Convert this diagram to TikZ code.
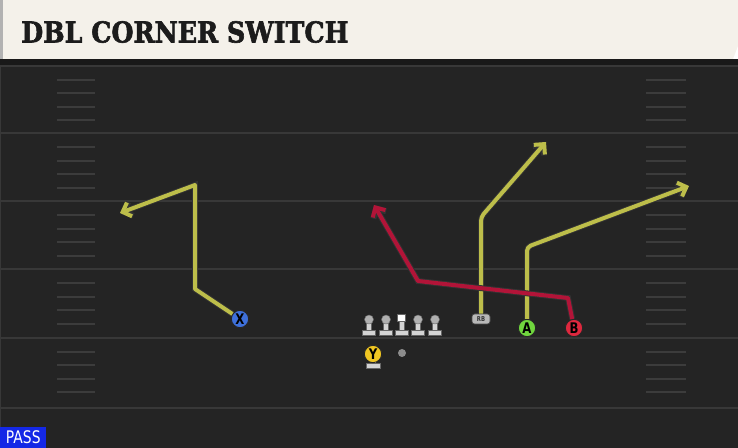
\documentclass[tikz,border=0pt]{standalone}
\usepackage{fontspec}
\usetikzlibrary{arrows.meta}
\newfontfamily\titlefont[FakeStretch=0.88,FakeBold=2]{DejaVu Serif}
\newfontfamily\playfont[FakeStretch=0.8]{DejaVu Sans}
\definecolor{fieldbg}{RGB}{36,36,36}
\definecolor{yardgray}{RGB}{56,56,56}
\definecolor{hashgray}{RGB}{60,60,60}
\definecolor{cream}{RGB}{244,241,234}
\definecolor{titleink}{RGB}{28,28,28}
\definecolor{routeyellow}{RGB}{189,190,74}
\definecolor{routered}{RGB}{178,20,56}
\definecolor{xblue}{RGB}{62,112,218}
\definecolor{agreen}{RGB}{112,214,62}
\definecolor{bred}{RGB}{222,40,62}
\definecolor{yyellow}{RGB}{240,198,34}
\definecolor{passblue}{RGB}{20,40,230}
\definecolor{linegray}{RGB}{212,212,212}
\definecolor{headgray}{RGB}{176,176,176}
\begin{document}
\begin{tikzpicture}[x=0.75pt,y=-0.75pt]
  \useasboundingbox (0,0) rectangle (738,448);
  \tikzstyle{yard}=[draw=yardgray, line width=1.5pt]
  \tikzstyle{hash}=[draw=hashgray, line width=1.4pt]
  \tikzstyle{player}=[circle, draw=black!85, line width=0.7pt, minimum size=13pt, inner sep=0pt, font=\playfont\bfseries\fontsize{11}{11}\selectfont]
  \tikzstyle{head}=[circle, fill=headgray, draw=black!60, line width=0.3pt, minimum size=6.8pt, inner sep=0pt]
  \tikzstyle{route}=[line width=3pt, line join=round, -{Straight Barb[length=5.5pt,width=11pt]}, preaction={draw=black!80, line width=4.4pt}]

  % field and title bar
  \fill[fieldbg] (0,59) rectangle (738,448);
  \fill[black!90] (0,59) rectangle (738,65);
  \fill[cream] (3,0) -- (738,0) -- (738,46) -- (733,59) -- (3,59) -- cycle;
  \fill[black!30] (0,0) rectangle (3,59);
  \draw[yardgray, line width=1.2pt] (0.5,65) -- (0.5,448);
  \node[anchor=base west, inner sep=0pt, text=titleink, font=\titlefont\bfseries\fontsize{21.6}{24}\selectfont] (title) at (21,42.5) {DBL CORNER SWITCH};

  \foreach \y in {66,133.5,201.5,269.5,338,407.5}
    \draw[yard] (0,\y) -- (738,\y);
  \foreach \y in {66,133.5,201.5,269.5,338}
    \foreach \k in {1,...,4} {
      \draw[hash] (57,\y+13.6*\k) -- (95,\y+13.6*\k);
      \draw[hash] (646,\y+13.6*\k) -- (686,\y+13.6*\k);
    }

  % line
  \foreach \x in {369,386,401.5,418,435} {
    \filldraw[fill=linegray, draw=black!60, line width=0.3pt] (\x-2.6,321) rectangle (\x+2.6,331);
    \filldraw[fill=linegray, draw=black!60, line width=0.3pt] (\x-6.5,330.5) rectangle (\x+6.5,335.5);
  }
  \foreach \x/\n in {369/lt,386/lg,418/rg,435/rt}
    \node[head] (\n) at (\x,319.5) {};
  \node[fill=white, draw=black!60, line width=0.3pt, minimum width=6pt, minimum height=5.5pt, inner sep=0pt] (c) at (401.5,317.5) {};

  % backfield
  \fill[linegray] (370.5,360) rectangle (375.5,364);
  \filldraw[fill=linegray, draw=black!60, line width=0.3pt] (366.5,363) rectangle (380,368);
  \node[player, fill=yyellow] (Y) at (373,354) {Y};
  \node[circle, fill=black!45, minimum size=6pt, inner sep=0pt] (ball) at (402,353) {};
  \node[rounded corners=2pt, fill=black!28, draw=black!70, line width=0.5pt, minimum width=13.5pt, minimum height=7.5pt, inner sep=0pt, text=black!80, font=\playfont\bfseries\fontsize{5}{5}\selectfont] (RB) at (481,319) {RB};

  % receivers
  \node[player, fill=xblue] (X) at (240,319) {X};
  \node[player, fill=agreen] (A) at (527,328) {A};
  \node[player, fill=bred] (B) at (574,328) {B};

  % routes
  \coordinate (x1) at (195,289);
  \coordinate (x2) at (195,185);
  \coordinate (x3) at (120,213);
  \coordinate (r1) at (481,217);
  \coordinate (r2) at (546,142);
  \coordinate (a1) at (527,247);
  \coordinate (a2) at (689,186);
  \coordinate (b1) at (568,298);
  \coordinate (b2) at (418,281);
  \coordinate (b3) at (374,205);

  \draw[route, draw=routeyellow] (X) -- (x1) -- (x2) -- (x3);
  \draw[route, draw=routeyellow, rounded corners=3pt] (RB) -- (r1) -- (r2);
  \draw[route, draw=routeyellow, rounded corners=3pt] (A) -- (a1) -- (a2);
  \draw[route, draw=routered] (B) -- (b1) -- (b2) -- (b3);

  \node[anchor=south west, fill=passblue, text=white, minimum width=34.5pt, minimum height=15.5pt, inner sep=0pt, font=\playfont\fontsize{13}{13}\selectfont] (pass) at (0,448) {PASS};
\end{tikzpicture}
\end{document}
